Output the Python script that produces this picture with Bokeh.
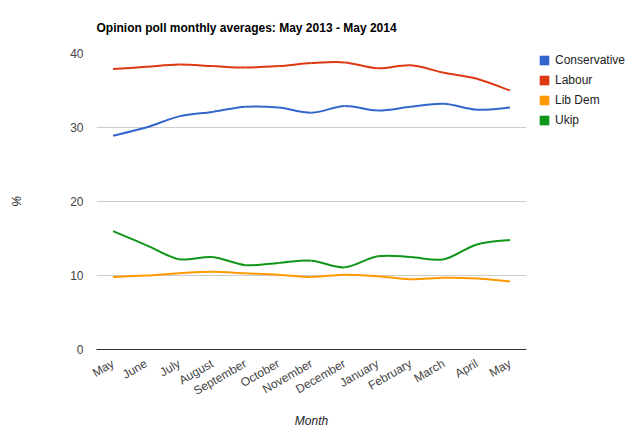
from bokeh.plotting import figure
from bokeh.models import (Range1d, FixedTicker, Legend, LegendItem, Title,
                          ColumnDataSource)
from bokeh.layouts import row
from bokeh.embed import file_html
from bokeh.resources import INLINE

# ---- data ----
months = ["May", "June", "July", "August", "September", "October", "November",
          "December", "January", "February", "March", "April", "May"]
conservative = [28.9, 30.0, 31.5, 32.1, 32.8, 32.7, 32.0, 32.9, 32.3, 32.8, 33.2, 32.4, 32.7]
labour = [37.9, 38.2, 38.5, 38.3, 38.1, 38.3, 38.7, 38.8, 38.0, 38.4, 37.4, 36.6, 35.0]
libdem = [9.8, 10.0, 10.3, 10.5, 10.3, 10.1, 9.8, 10.1, 9.9, 9.5, 9.7, 9.6, 9.2]
ukip = [16.0, 14.1, 12.2, 12.5, 11.4, 11.7, 12.0, 11.1, 12.6, 12.5, 12.2, 14.2, 14.8]

series_names = ["Conservative", "Labour", "Lib Dem", "Ukip"]
series_values = [conservative, labour, libdem, ukip]
colors = ["#3366cc", "#dc3912", "#ff9900", "#109618"]
y_ticks = [0, 10, 20, 30, 40]

FONT = "Liberation Sans"
FS = "12px"
NAN = float("nan")

p = figure(width=538, height=440, output_backend="svg", toolbar_location=None,
           x_range=Range1d(-0.5, len(months) - 0.5), y_range=Range1d(0, 40),
           min_border_left=96, min_border_right=12, min_border_top=53,
           min_border_bottom=91)
p.outline_line_color = None
p.background_fill_color = "white"

t = Title(text="Opinion poll monthly averages: May 2013 - May 2014",
          text_font=FONT, text_font_size=FS, text_font_style="bold",
          text_color="#000000", offset=0, standoff=37)
p.add_layout(t, "above")

# axes
p.xaxis.ticker = FixedTicker(ticks=list(range(len(months))))
p.xaxis.major_label_overrides = {i: m for i, m in enumerate(months)}
p.xaxis.major_label_orientation = 0.5236
p.xaxis.major_label_text_font = FONT
p.xaxis.major_label_text_font_size = FS
p.xaxis.major_label_text_color = "#444444"
p.xaxis.major_tick_out = 0
p.xaxis.major_tick_in = 0
p.xaxis.major_label_standoff = 13
p.xaxis.major_tick_line_color = None
p.xaxis.minor_tick_line_color = None
p.xaxis.axis_line_color = "#333333"
p.xaxis.axis_label = "Month"
p.xaxis.axis_label_text_font = FONT
p.xaxis.axis_label_text_font_size = FS
p.xaxis.axis_label_text_font_style = "italic"
p.xaxis.axis_label_text_color = "#222222"
p.xaxis.axis_label_standoff = 7

p.yaxis.ticker = FixedTicker(ticks=y_ticks)
p.yaxis.major_label_text_font = FONT
p.yaxis.major_label_text_font_size = FS
p.yaxis.major_label_text_color = "#444444"
p.yaxis.major_tick_out = 0
p.yaxis.major_tick_in = 0
p.yaxis.major_label_standoff = 13
p.yaxis.major_tick_line_color = None
p.yaxis.minor_tick_line_color = None
p.yaxis.axis_line_color = None
p.yaxis.axis_label = "%"
p.yaxis.axis_label_text_font = FONT
p.yaxis.axis_label_text_font_size = FS
p.yaxis.axis_label_text_font_style = "italic"
p.yaxis.axis_label_text_color = "#222222"
p.yaxis.axis_label_standoff = 43

p.xgrid.grid_line_color = None
p.ygrid.grid_line_color = "#cccccc"
p.ygrid.grid_line_width = 1

# smooth curves drawn as bezier segments through the data points
xs = list(range(len(months)))
for name, vals, col in zip(series_names, series_values, colors):
    n = len(vals)
    x0, y0, x1, y1, cx0, cy0, cx1, cy1 = [], [], [], [], [], [], [], []
    for i in range(n - 1):
        xp = xs[i - 1] if i > 0 else xs[i]
        yp = vals[i - 1] if i > 0 else vals[i]
        xn2 = xs[i + 2] if i + 2 < n else xs[i + 1]
        yn2 = vals[i + 2] if i + 2 < n else vals[i + 1]
        x0.append(xs[i]); y0.append(vals[i])
        x1.append(xs[i + 1]); y1.append(vals[i + 1])
        cx0.append(xs[i] + (xs[i + 1] - xp) / 6.0)
        cy0.append(vals[i] + (vals[i + 1] - yp) / 6.0)
        cx1.append(xs[i + 1] - (xn2 - xs[i]) / 6.0)
        cy1.append(vals[i + 1] - (yn2 - vals[i]) / 6.0)
    src = ColumnDataSource(dict(x0=x0, y0=y0, x1=x1, y1=y1,
                                cx0=cx0, cy0=cy0, cx1=cx1, cy1=cy1))
    p.bezier(x0="x0", y0="y0", x1="x1", y1="y1", cx0="cx0", cy0="cy0",
             cx1="cx1", cy1="cy1", source=src, line_color=col, line_width=2)

# ---- legend panel (separate figure to the right) ----
lf = figure(width=97, height=440, output_backend="svg", toolbar_location=None,
            x_axis_type=None, y_axis_type=None,
            min_border_left=0, min_border_right=0, min_border_top=52,
            min_border_bottom=0,
            x_range=Range1d(0, 1), y_range=Range1d(0, 1))
lf.outline_line_color = None
lf.xgrid.grid_line_color = None
lf.ygrid.grid_line_color = None
items = []
for name, col in zip(series_names, colors):
    # swatch renderer with a single undefined (NaN) row: draws nothing itself
    sw = lf.quad(left=[NAN], right=[NAN], top=[NAN], bottom=[NAN],
                 fill_color=col, line_color=None)
    items.append(LegendItem(label=name, renderers=[sw]))

legend = Legend(items=items, location="top_left", glyph_width=12,
                glyph_height=12, label_height=14, label_standoff=5, spacing=6,
                padding=0, margin=0, border_line_color=None,
                background_fill_alpha=0, label_text_font=FONT,
                label_text_font_size=FS, label_text_color="#222222")
lf.add_layout(legend, "center")

open("out.html", "w").write(file_html(row(p, lf), INLINE))
